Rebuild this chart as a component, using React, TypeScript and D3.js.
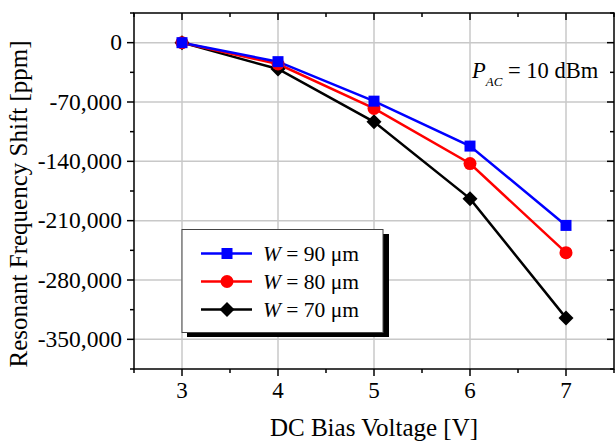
import React, { useEffect, useRef } from 'react';
import * as d3 from 'd3';

const voltages = [3, 4, 5, 6, 7];
const w90 = [0, -22400, -69000, -122000, -215600];
const w80 = [0, -25200, -77600, -142600, -247800];
const w70 = [0, -31100, -93400, -184000, -324700];
const yTicks = [0, -70000, -140000, -210000, -280000, -350000];

const series = [
    { name: '90', values: w90, colour: '#0000ff', shape: 'square' },
    { name: '80', values: w80, colour: '#ff0000', shape: 'circle' },
    { name: '70', values: w70, colour: '#000000', shape: 'diamond' },
];

const W = 615, H = 441;
const left = 134, right = 614, top = 13, bottom = 369;
const font = '"Liberation Serif", "Times New Roman", serif';

function drawMarker(g: any, shape: string, x: number, y: number, colour: string) {
    if (shape === 'square') {
        g.append('rect').attr('x', x - 5.5).attr('y', y - 5.5).attr('width', 11).attr('height', 11).attr('fill', colour)
    } else if (shape === 'circle') {
        g.append('circle').attr('cx', x).attr('cy', y).attr('r', 6.5).attr('fill', colour)
    } else {
        const s = 7.5
        g.append('path').attr('d', `M${x},${y - s}L${x + s},${y}L${x},${y + s}L${x - s},${y}Z`).attr('fill', colour)
    }
}

export default function App() {
    const svgRef = useRef<SVGSVGElement>(null)

    useEffect(() => {
        const svg = d3.select(svgRef.current)
        svg.selectAll('*').remove()

        const x = d3.scaleLinear().domain([2.5, 7.5]).range([left, right])
        const y = d3.scaleLinear().domain([-385000, 35000]).range([bottom, top])

        // grid
        const grid = svg.append('g').attr('stroke', '#c8c8c8').attr('stroke-width', 1.5)
        voltages.forEach(v => {
            grid.append('line').attr('x1', x(v)).attr('x2', x(v)).attr('y1', top).attr('y2', bottom)
        })
        yTicks.forEach(v => {
            grid.append('line').attr('x1', left).attr('x2', right).attr('y1', y(v)).attr('y2', y(v))
        })

        // axes
        const ax = svg.append('g').attr('stroke', '#000').attr('stroke-width', 1.5)
        ax.append('rect').attr('x', left).attr('y', top).attr('width', right - left).attr('height', bottom - top).attr('fill', 'none')
        const xMinor = d3.range(2.5, 7.51, 0.5)
        xMinor.forEach(v => {
            const major = Number.isInteger(v)
            const len = major ? 7 : 4
            ax.append('line').attr('x1', x(v)).attr('x2', x(v)).attr('y1', bottom).attr('y2', bottom + len)
            ax.append('line').attr('x1', x(v)).attr('x2', x(v)).attr('y1', top).attr('y2', top + len)
        })
        const yMinor = d3.range(35000, -385001, -35000)
        yMinor.forEach(v => {
            const major = v % 70000 === 0
            const len = major ? 7 : 4
            ax.append('line').attr('x1', left - len).attr('x2', left).attr('y1', y(v)).attr('y2', y(v))
            ax.append('line').attr('x1', right - len).attr('x2', right).attr('y1', y(v)).attr('y2', y(v))
        })

        // tick labels
        const fmt = (v: number) => d3.format(',')(v).replace('\u2212', '-')
        yTicks.forEach(v => {
            svg.append('text').attr('x', 122).attr('y', y(v) + 7.5).attr('text-anchor', 'end')
                .attr('font-family', font).attr('font-size', 23.5).text(fmt(v))
        })
        voltages.forEach(v => {
            svg.append('text').attr('x', x(v)).attr('y', 398).attr('text-anchor', 'middle')
                .attr('font-family', font).attr('font-size', 23).text(v)
        })

        // axis titles
        svg.append('text').attr('x', 374).attr('y', 436).attr('text-anchor', 'middle')
            .attr('font-family', font).attr('font-size', 25).text('DC Bias Voltage [V]')
        svg.append('text').attr('transform', `translate(27,204) rotate(-90)`).attr('text-anchor', 'middle')
            .attr('font-family', font).attr('font-size', 25).text('Resonant Frequency Shift [ppm]')

        // series
        const line = d3.line<number>().x((d, i) => x(voltages[i])).y(d => y(d))
        series.slice().reverse().forEach(s => {
            svg.append('path').datum(s.values).attr('d', line).attr('fill', 'none')
                .attr('stroke', s.colour).attr('stroke-width', 2.5)
        })
        series.slice().reverse().forEach(s => {
            const g = svg.append('g')
            s.values.forEach((v, i) => drawMarker(g, s.shape, x(voltages[i]), y(v), s.colour))
        })

        // annotation
        const ann = svg.append('text').attr('x', 472).attr('y', 78).attr('font-family', font).attr('font-size', 22.5)
        ann.append('tspan').attr('font-style', 'italic').text('P')
        ann.append('tspan').attr('font-style', 'italic').attr('font-size', 13).attr('dy', 8).text('AC')
        ann.append('tspan').attr('dy', -8).text(' = 10 dBm')

        // legend
        const lg = svg.append('g')
        lg.append('rect').attr('x', 187).attr('y', 234).attr('width', 202).attr('height', 103).attr('fill', '#000')
        lg.append('rect').attr('x', 182).attr('y', 229.5).attr('width', 201).attr('height', 103)
            .attr('fill', '#fff').attr('stroke', '#444').attr('stroke-width', 1)
        series.forEach((s, i) => {
            const cy = 253.5 + i * 28
            lg.append('line').attr('x1', 201).attr('x2', 252).attr('y1', cy).attr('y2', cy)
                .attr('stroke', s.colour).attr('stroke-width', 2.5)
            drawMarker(lg, s.shape, 227, cy, s.colour)
            const t = lg.append('text').attr('x', 263).attr('y', cy + 7).attr('font-family', font).attr('font-size', 21.5)
            t.append('tspan').attr('font-style', 'italic').text('W')
            t.append('tspan').text(` = ${s.name} \u03bcm`)
        })
    }, [])

    return (
        <svg ref={svgRef} width={W} height={H} style={{ position: 'absolute', left: 0, top: 0 }}></svg>
    )
}
